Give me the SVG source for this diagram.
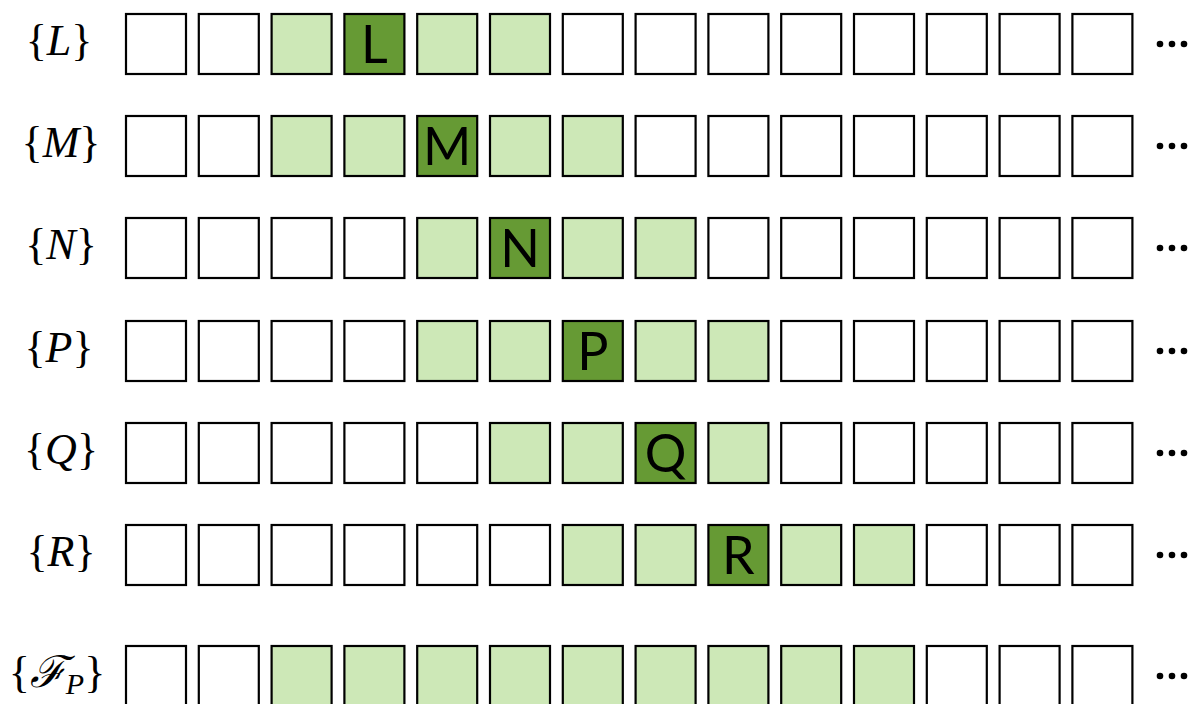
<svg xmlns="http://www.w3.org/2000/svg" width="1193" height="704" viewBox="0 0 1193 704">
<style>
.c{fill:#fff;stroke:#000;stroke-width:2.2}
.l{fill:#cde8b7;stroke:#000;stroke-width:2.2}
.d{fill:#669a34;stroke:#000;stroke-width:2.2}
.t{font-family:"Lato","Open Sans",sans-serif;font-size:52px;fill:#000;text-anchor:middle}
.lab{font-family:"Liberation Serif","DejaVu Serif",serif;font-size:44px;fill:#000;text-anchor:middle}
.it{font-style:italic}
.dot{fill:#000}
</style>
<defs>
<rect id="cw" class="c" width="60" height="60"/>
<rect id="cl" class="l" width="60" height="60"/>
<rect id="cd" class="d" width="60" height="60"/>
<g id="dots"><circle class="dot" cx="1160" cy="0" r="3.3"/><circle class="dot" cx="1172" cy="0" r="3.3"/><circle class="dot" cx="1184" cy="0" r="3.3"/></g>
</defs>
<g id="row-L" transform="translate(0,14)">
<text class="lab" x="59" y="41">{<tspan class="it">L</tspan>}</text>
<use href="#cw" x="126"/><use href="#cw" x="198.8"/><use href="#cl" x="271.6"/><use href="#cd" x="344.4"/><use href="#cl" x="417.2"/><use href="#cl" x="490"/><use href="#cw" x="562.8"/><use href="#cw" x="635.6"/><use href="#cw" x="708.4"/><use href="#cw" x="781.2"/><use href="#cw" x="854"/><use href="#cw" x="926.8"/><use href="#cw" x="999.6"/><use href="#cw" x="1072.4"/>
<text class="t" x="374.4" y="49">L</text>
<use href="#dots" y="30"/>
</g>
<g id="row-M" transform="translate(0,116)">
<text class="lab" x="61" y="41">{<tspan class="it">M</tspan>}</text>
<use href="#cw" x="126"/><use href="#cw" x="198.8"/><use href="#cl" x="271.6"/><use href="#cl" x="344.4"/><use href="#cd" x="417.2"/><use href="#cl" x="490"/><use href="#cl" x="562.8"/><use href="#cw" x="635.6"/><use href="#cw" x="708.4"/><use href="#cw" x="781.2"/><use href="#cw" x="854"/><use href="#cw" x="926.8"/><use href="#cw" x="999.6"/><use href="#cw" x="1072.4"/>
<text class="t" x="447.2" y="49">M</text>
<use href="#dots" y="30"/>
</g>
<g id="row-N" transform="translate(0,218)">
<text class="lab" x="61" y="41">{<tspan class="it">N</tspan>}</text>
<use href="#cw" x="126"/><use href="#cw" x="198.8"/><use href="#cw" x="271.6"/><use href="#cw" x="344.4"/><use href="#cl" x="417.2"/><use href="#cd" x="490"/><use href="#cl" x="562.8"/><use href="#cl" x="635.6"/><use href="#cw" x="708.4"/><use href="#cw" x="781.2"/><use href="#cw" x="854"/><use href="#cw" x="926.8"/><use href="#cw" x="999.6"/><use href="#cw" x="1072.4"/>
<text class="t" x="520" y="49">N</text>
<use href="#dots" y="30"/>
</g>
<g id="row-P" transform="translate(0,321)">
<text class="lab" x="59" y="41">{<tspan class="it">P</tspan>}</text>
<use href="#cw" x="126"/><use href="#cw" x="198.8"/><use href="#cw" x="271.6"/><use href="#cw" x="344.4"/><use href="#cl" x="417.2"/><use href="#cl" x="490"/><use href="#cd" x="562.8"/><use href="#cl" x="635.6"/><use href="#cl" x="708.4"/><use href="#cw" x="781.2"/><use href="#cw" x="854"/><use href="#cw" x="926.8"/><use href="#cw" x="999.6"/><use href="#cw" x="1072.4"/>
<text class="t" x="592.8" y="49">P</text>
<use href="#dots" y="30"/>
</g>
<g id="row-Q" transform="translate(0,423)">
<text class="lab" x="61" y="41">{<tspan class="it">Q</tspan>}</text>
<use href="#cw" x="126"/><use href="#cw" x="198.8"/><use href="#cw" x="271.6"/><use href="#cw" x="344.4"/><use href="#cw" x="417.2"/><use href="#cl" x="490"/><use href="#cl" x="562.8"/><use href="#cd" x="635.6"/><use href="#cl" x="708.4"/><use href="#cw" x="781.2"/><use href="#cw" x="854"/><use href="#cw" x="926.8"/><use href="#cw" x="999.6"/><use href="#cw" x="1072.4"/>
<text class="t" x="665.6" y="49">Q</text>
<use href="#dots" y="30"/>
</g>
<g id="row-R" transform="translate(0,525)">
<text class="lab" x="61" y="41">{<tspan class="it">R</tspan>}</text>
<use href="#cw" x="126"/><use href="#cw" x="198.8"/><use href="#cw" x="271.6"/><use href="#cw" x="344.4"/><use href="#cw" x="417.2"/><use href="#cw" x="490"/><use href="#cl" x="562.8"/><use href="#cl" x="635.6"/><use href="#cd" x="708.4"/><use href="#cl" x="781.2"/><use href="#cl" x="854"/><use href="#cw" x="926.8"/><use href="#cw" x="999.6"/><use href="#cw" x="1072.4"/>
<text class="t" x="738.4" y="49">R</text>
<use href="#dots" y="30"/>
</g>
<g id="row-F" transform="translate(0,646)">
<text class="lab" x="57" y="41">{<tspan class="it">ℱ</tspan><tspan class="it" font-size="30" dy="7">P</tspan><tspan dy="-7">}</tspan></text>
<use href="#cw" x="126"/><use href="#cw" x="198.8"/><use href="#cl" x="271.6"/><use href="#cl" x="344.4"/><use href="#cl" x="417.2"/><use href="#cl" x="490"/><use href="#cl" x="562.8"/><use href="#cl" x="635.6"/><use href="#cl" x="708.4"/><use href="#cl" x="781.2"/><use href="#cl" x="854"/><use href="#cw" x="926.8"/><use href="#cw" x="999.6"/><use href="#cw" x="1072.4"/>
<use href="#dots" y="30"/>
</g>
<g id="connectors"/>
</svg>
